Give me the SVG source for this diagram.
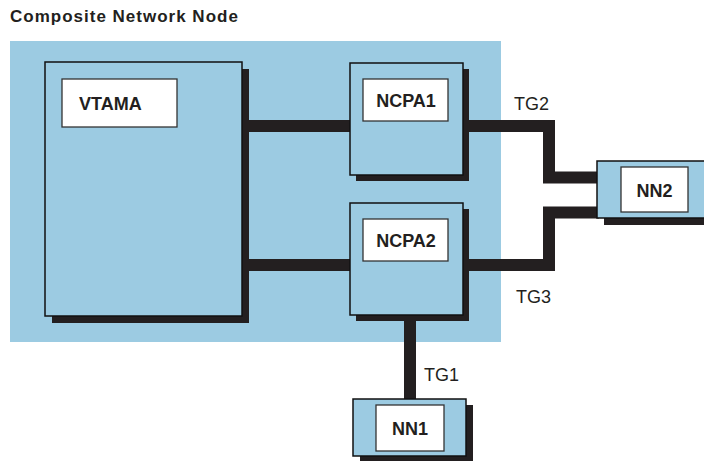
<svg xmlns="http://www.w3.org/2000/svg" width="704" height="461" viewBox="0 0 704 461">
<style>
.box{fill:#9ccbe2;stroke:#111;stroke-width:1.5}
.shadow{fill:#231f20}
.lbl{fill:#fff;stroke:#333;stroke-width:1.3}
.bt{font-family:"Liberation Sans",Arial,sans-serif;font-weight:bold;font-size:18px;fill:#231f20}
.tg{font-family:"Liberation Sans",Arial,sans-serif;font-size:18px;fill:#231f20}
.conn{fill:none;stroke:#231f20;stroke-width:12;stroke-linejoin:miter;stroke-linecap:butt}
</style>
<rect width="704" height="461" fill="#fff"/>
<g id="composite-node">
<rect x="10" y="41" width="491" height="301" fill="#9ccbe2"/>
<text x="10" y="22" font-family="Liberation Sans,Arial,sans-serif" font-weight="bold" font-size="17" letter-spacing="1" fill="#231f20">Composite Network Node</text>
</g>
<g id="connectors">
<path class="conn" d="M242 126 H352"/>
<path class="conn" d="M242 265 H352"/>
<path class="conn" d="M461 126 H549 V177.5 H599"/>
<path class="conn" d="M461 265 H549 V212.5 H599"/>
<path class="conn" d="M410 313 V401"/>
</g>
<g id="vtama">
<rect class="shadow" x="52" y="69" width="197" height="254"/>
<rect class="box" x="45" y="62" width="197" height="254"/>
<rect class="lbl" x="62" y="79" width="115" height="48"/>
<text class="bt" x="79" y="110">VTAMA</text>
</g>
<g id="ncpa1">
<rect class="shadow" x="356" y="69" width="113" height="112"/>
<rect class="box" x="350" y="63" width="113" height="112"/>
<rect class="lbl" x="363" y="79" width="85" height="42"/>
<text class="bt" x="406" y="107" text-anchor="middle">NCPA1</text>
</g>
<g id="ncpa2">
<rect class="shadow" x="356" y="209" width="113" height="112"/>
<rect class="box" x="350" y="203" width="113" height="112"/>
<rect class="lbl" x="363" y="219" width="85" height="42"/>
<text class="bt" x="406" y="247" text-anchor="middle">NCPA2</text>
</g>
<g id="nn1">
<rect class="shadow" x="360" y="405" width="113" height="57"/>
<rect class="box" x="353" y="399" width="113" height="57"/>
<rect class="lbl" x="376" y="405" width="68" height="46"/>
<text class="bt" x="410" y="435" text-anchor="middle">NN1</text>
</g>
<g id="nn2">
<rect class="shadow" x="604" y="168" width="110" height="57"/>
<rect class="box" x="597" y="161" width="110" height="57"/>
<rect class="lbl" x="621" y="167" width="67" height="45"/>
<text class="bt" x="654.5" y="197" text-anchor="middle">NN2</text>
</g>
<g id="labels">
<text class="tg" x="514" y="110">TG2</text>
<text class="tg" x="516" y="303">TG3</text>
<text class="tg" x="424" y="381">TG1</text>
</g>
</svg>
